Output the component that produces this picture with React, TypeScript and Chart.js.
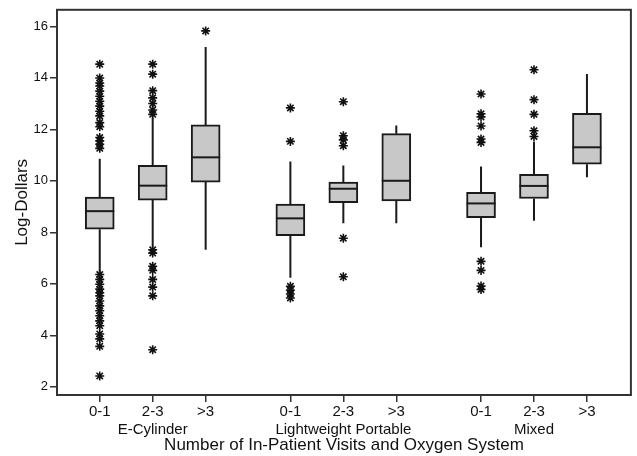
import React, { useEffect, useRef } from "react";
import { Chart, registerables } from "chart.js";
Chart.register(...registerables);

// ---- data ----
const groupNames = ["E-Cylinder", "Lightweight Portable", "Mixed"];
const visitLabels = ["0-1", "2-3", ">3"];

// box statistics, order: E 0-1, E 2-3, E >3, LP 0-1, LP 2-3, LP >3, M 0-1, M 2-3, M >3
const whiskerLow = [6.4, 7.45, 7.32, 6.23, 8.35, 8.35, 7.42, 8.45, 10.14];
const q1 = [8.12, 9.25, 9.95, 7.87, 9.15, 9.22, 8.57, 9.31, 10.64];
const median = [8.82, 9.81, 10.91, 8.54, 9.69, 10.0, 9.12, 9.8, 11.3];
const q3 = [9.37, 10.6, 12.17, 9.09, 9.95, 11.83, 9.55, 10.25, 12.62];
const whiskerHigh = [10.86, 12.45, 15.2, 10.75, 10.59, 12.15, 10.55, 11.53, 14.15];

const outliers: number[][] = [
  [14.53, 13.99, 13.8, 13.68, 13.48, 13.28, 13.09, 12.9, 12.7, 12.52, 12.26, 12.1, 11.68, 11.55, 11.42, 11.26,
   6.36, 6.17, 5.98, 5.79, 5.65, 5.53, 5.33, 5.14, 4.95, 4.76, 4.56, 4.37, 4.05, 3.86, 3.57, 2.42],
  [14.53, 14.14, 13.5, 13.22, 13.0, 12.75, 12.58, 7.32, 7.19, 6.68, 6.52, 6.17, 5.87, 5.53, 3.44],
  [15.82],
  [12.83, 11.53, 5.9, 5.75, 5.6, 5.45],
  [13.07, 11.75, 11.59, 11.36, 7.77, 6.27],
  [],
  [13.37, 12.6, 12.48, 12.13, 11.62, 11.49, 6.87, 6.52, 5.91, 5.78],
  [14.31, 13.15, 12.58, 11.94, 11.72],
  [],
];

const yTickValues = [2, 4, 6, 8, 10, 12, 14, 16];

// layout constants
const GROUP_STEP = 3.6;
const positions: number[] = [];
groupNames.forEach((_, g) => visitLabels.forEach((_, v) => positions.push(g * GROUP_STEP + v + 1)));

const FONT = "'Liberation Sans', Arial, sans-serif";
const INK = "#111";
const AXIS = "#333";

const boxExtras = {
  id: "boxExtras",
  afterDatasetsDraw(chart: any) {
    const meta = chart.getDatasetMeta(0);
    const ys = chart.scales.y;
    const ctx = chart.ctx;
    ctx.save();
    ctx.strokeStyle = "#1a1a1a";
    ctx.lineWidth = 2;
    meta.data.forEach((bar: any, i: number) => {
      const { x, width } = bar.getProps(["x", "width"], true);
      ctx.beginPath();
      ctx.moveTo(x, ys.getPixelForValue(whiskerHigh[i]));
      ctx.lineTo(x, ys.getPixelForValue(q3[i]));
      ctx.moveTo(x, ys.getPixelForValue(q1[i]));
      ctx.lineTo(x, ys.getPixelForValue(whiskerLow[i]));
      ctx.stroke();
      const my = ys.getPixelForValue(median[i]);
      ctx.beginPath();
      ctx.moveTo(x - width / 2, my);
      ctx.lineTo(x + width / 2, my);
      ctx.stroke();
    });
    const a = chart.chartArea;
    ctx.strokeStyle = AXIS;
    ctx.lineWidth = 2;
    ctx.strokeRect(a.left, a.top, a.right - a.left, a.bottom - a.top);
    ctx.restore();
  },
};

export default function App() {
  const ref = useRef<HTMLCanvasElement>(null);
  useEffect(() => {
    const boxData = positions.map((x, i) => ({ x, y: [q1[i], q3[i]] }));
    const outlierData: { x: number; y: number }[] = [];
    outliers.forEach((list, i) => list.forEach((v) => outlierData.push({ x: positions[i], y: v })));

    const chart = new Chart(ref.current as HTMLCanvasElement, {
      type: "bar",
      data: {
        datasets: [
          {
            type: "bar",
            data: boxData as any,
            backgroundColor: "#c8c8c8",
            borderColor: "#1a1a1a",
            borderWidth: 2,
            borderSkipped: false,
            barThickness: 29,
          } as any,
          {
            type: "scatter",
            data: outlierData as any,
            pointStyle: "star",
            pointRadius: 4.5,
            pointBorderColor: "#111",
            pointBorderWidth: 1.6,
            pointBackgroundColor: "rgba(0,0,0,0)",
            showLine: false,
          } as any,
        ],
      },
      options: {
        animation: false,
        responsive: false,
        devicePixelRatio: 1,
        layout: { padding: { top: 6, right: 3, left: 0, bottom: 0 } },
        plugins: { legend: { display: false }, tooltip: { enabled: false } },
        scales: {
          x: {
            type: "linear",
            min: 0.193,
            max: 11.03,
            offset: false,
            afterBuildTicks: (s: any) => {
              s.ticks = positions.map((v) => ({ value: v }));
            },
            afterFit: (s: any) => {
              s.height = 61;
            },
            ticks: {
              autoSkip: false,
              maxRotation: 0,
              padding: 1,
              color: INK,
              font: { family: FONT, size: 15, lineHeight: 1.2 },
              callback: (_v: any, idx: number) =>
                idx % 3 === 1 ? [visitLabels[1], groupNames[Math.floor(idx / 3)]] : visitLabels[idx % 3],
            },
            grid: { offset: false, drawOnChartArea: false, drawTicks: true, tickLength: 7, color: AXIS, lineWidth: 1.5 },
            border: { display: true, color: AXIS, width: 2 },
            title: {
              display: true,
              text: "Number of In-Patient Visits and Oxygen System",
              color: INK,
              font: { family: FONT, size: 17, lineHeight: 1.2 },
              padding: { top: 0, bottom: 0 },
            },
          },
          y: {
            type: "linear",
            min: 1.68,
            max: 16.64,
            afterBuildTicks: (s: any) => {
              s.ticks = yTickValues.map((v) => ({ value: v }));
            },
            afterFit: (s: any) => {
              s.width = 57;
            },
            ticks: { padding: 2, color: INK, font: { family: FONT, size: 13 } },
            grid: { offset: false, drawOnChartArea: false, drawTicks: true, tickLength: 7, color: AXIS, lineWidth: 1.5 },
            border: { display: true, color: AXIS, width: 2 },
            title: {
              display: true,
              text: "Log-Dollars",
              color: INK,
              font: { family: FONT, size: 17, lineHeight: 1.2 },
              padding: { top: 12, bottom: 0 },
            },
          },
        },
      } as any,
      plugins: [boxExtras],
    });
    return () => chart.destroy();
  }, []);
  return (
    <div style={{ position: "absolute", left: 0, top: 0, width: 637, height: 456, background: "#fff" }}>
      <canvas ref={ref} width={637} height={456} style={{ display: "block" }} />
    </div>
  );
}
